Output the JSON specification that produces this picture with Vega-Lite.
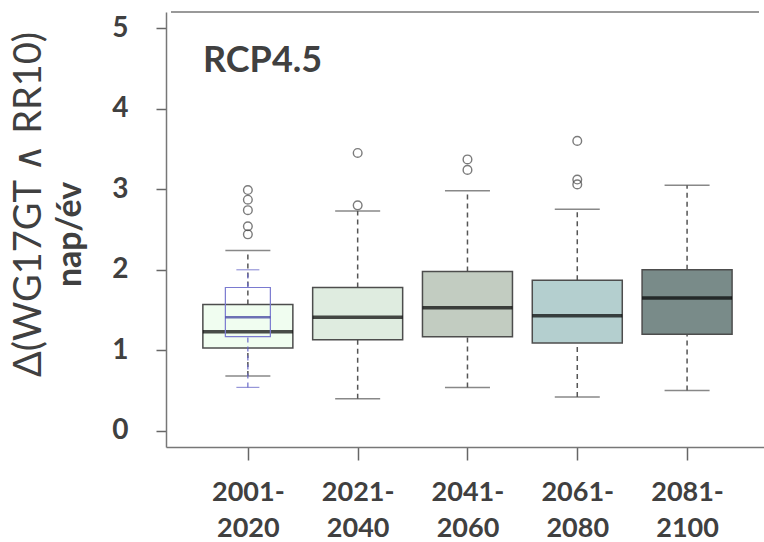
{
  "$schema": "https://vega.github.io/schema/vega-lite/v6.json",
  "width": 598,
  "height": 435,
  "autosize": {"type": "none"},
  "padding": {"left": 166, "top": 12, "right": 0, "bottom": 95},
  "background": "white",
  "config": {
    "view": {"stroke": null},
    "font": "Lato"
  },
  "title": {
    "text": "RCP4.5",
    "anchor": "start",
    "frame": "group",
    "orient": "top",
    "offset": 0,
    "dx": 37,
    "dy": 97,
    "baseline": "alphabetic",
    "font": "Lato",
    "fontSize": 36,
    "fontWeight": "bold",
    "color": "#404040"
  },
  "datasets": {
    "stats": [
      {"pos": 1, "period": "2001-2020", "lo": 0.68, "q1": 1.03, "med": 1.23, "q3": 1.57, "hi": 2.24},
      {"pos": 2, "period": "2021-2040", "lo": 0.4, "q1": 1.13, "med": 1.41, "q3": 1.78, "hi": 2.73},
      {"pos": 3, "period": "2041-2060", "lo": 0.54, "q1": 1.17, "med": 1.53, "q3": 1.98, "hi": 2.98},
      {"pos": 4, "period": "2061-2080", "lo": 0.42, "q1": 1.09, "med": 1.43, "q3": 1.87, "hi": 2.75},
      {"pos": 5, "period": "2081-2100", "lo": 0.5, "q1": 1.2, "med": 1.65, "q3": 2.0, "hi": 3.05}
    ],
    "blue": [
      {"pos": 1, "lo": 0.54, "q1": 1.17, "med": 1.41, "q3": 1.78, "hi": 2.0}
    ],
    "outliers": [
      {"pos": 1, "value": 2.99},
      {"pos": 1, "value": 2.87},
      {"pos": 1, "value": 2.74},
      {"pos": 1, "value": 2.54},
      {"pos": 1, "value": 2.44},
      {"pos": 2, "value": 3.45},
      {"pos": 2, "value": 2.8},
      {"pos": 3, "value": 3.37},
      {"pos": 3, "value": 3.24},
      {"pos": 4, "value": 3.6},
      {"pos": 4, "value": 3.12},
      {"pos": 4, "value": 3.06}
    ],
    "frame": [{"top": 5.2, "left": 0.3, "right": 5.655}]
  },
  "resolve": {"scale": {"y": "independent"}, "axis": {"y": "independent"}},
  "layer": [
    {
      "layer": [
        {
          "data": {"name": "stats"},
          "mark": {"type": "rule", "strokeDash": [5, 4], "color": "#555555", "strokeWidth": 1.5},
          "encoding": {
            "x": {
              "field": "pos", "type": "quantitative",
              "scale": {"domain": [0.3, 5.655], "nice": false, "zero": false},
              "axis": {
                "values": [1, 2, 3, 4, 5],
                "labelExpr": "[[''], ['2001-','2020'], ['2021-','2040'], ['2041-','2060'], ['2061-','2080'], ['2081-','2100']][datum.value]",
                "labelFont": "Lato", "labelFontSize": 27, "labelFontWeight": "bold", "labelColor": "#404040",
                "labelLineHeight": 36, "labelBaseline": "top", "labelPadding": 19,
                "labelFlush": false, "labelOverlap": false,
                "tickSize": 13, "tickColor": "#666666", "tickWidth": 1.5,
                "domainColor": "#777777", "domainWidth": 1.5,
                "grid": false, "title": null
              }
            },
            "y": {
              "field": "q3", "type": "quantitative",
              "scale": {"domain": [-0.2, 5.2], "nice": false, "zero": false},
              "axis": {
                "values": [0, 1, 2, 3, 4, 5], "format": "d",
                "labelFont": "Lato", "labelFontSize": 28, "labelFontWeight": "bold", "labelColor": "#404040",
                "labelPadding": 28, "tickSize": 10, "tickColor": "#666666", "tickWidth": 1.5,
                "domainColor": "#777777", "domainWidth": 1.5, "grid": false,
                "title": "nap/év", "titleFont": "Lato", "titleFontSize": 34, "titleFontWeight": "bold",
                "titleColor": "#404040", "titleX": -86, "titleY": 222, "titleAngle": 270,
                "titleAlign": "center", "titleBaseline": "alphabetic"
              }
            },
            "y2": {"field": "hi"}
          }
        },
        {
          "data": {"name": "stats"},
          "mark": {"type": "rule", "strokeDash": [5, 4], "color": "#555555", "strokeWidth": 1.5},
          "encoding": {
            "x": {"field": "pos", "type": "quantitative"},
            "y": {"field": "lo", "type": "quantitative"},
            "y2": {"field": "q1"}
          }
        },
        {
          "data": {"name": "stats"},
          "mark": {"type": "tick", "orient": "horizontal", "size": 45, "thickness": 1.5, "color": "#555555"},
          "encoding": {
            "x": {"field": "pos", "type": "quantitative"},
            "y": {"field": "hi", "type": "quantitative"}
          }
        },
        {
          "data": {"name": "stats"},
          "mark": {"type": "tick", "orient": "horizontal", "size": 45, "thickness": 1.5, "color": "#555555"},
          "encoding": {
            "x": {"field": "pos", "type": "quantitative"},
            "y": {"field": "lo", "type": "quantitative"}
          }
        },
        {
          "data": {"name": "stats"},
          "mark": {"type": "bar", "size": 90, "stroke": "#4d4d4d", "strokeWidth": 1.5},
          "encoding": {
            "x": {"field": "pos", "type": "quantitative"},
            "y": {"field": "q1", "type": "quantitative"},
            "y2": {"field": "q3"},
            "fill": {
              "field": "period", "type": "nominal",
              "scale": {"domain": ["2001-2020", "2021-2040", "2041-2060", "2061-2080", "2081-2100"],
                        "range": ["#F0FDF0", "#DFECE0", "#C2CCC1", "#B4CFCF", "#798B89"]},
              "legend": null
            }
          }
        },
        {
          "data": {"name": "stats"},
          "mark": {"type": "tick", "orient": "horizontal", "size": 90, "thickness": 3.5, "color": "#000000"},
          "encoding": {
            "x": {"field": "pos", "type": "quantitative"},
            "y": {"field": "med", "type": "quantitative"}
          }
        },
        {
          "data": {"name": "outliers"},
          "mark": {"type": "point", "shape": "circle", "filled": false, "size": 75, "stroke": "#444444", "strokeWidth": 1.4},
          "encoding": {
            "x": {"field": "pos", "type": "quantitative"},
            "y": {"field": "value", "type": "quantitative"}
          }
        },
        {
          "data": {"name": "blue"},
          "mark": {"type": "rule", "strokeDash": [5, 4], "color": "#6a6ac8", "strokeWidth": 1.2},
          "encoding": {
            "x": {"field": "pos", "type": "quantitative"},
            "y": {"field": "q3", "type": "quantitative"},
            "y2": {"field": "hi"}
          }
        },
        {
          "data": {"name": "blue"},
          "mark": {"type": "rule", "strokeDash": [5, 4], "color": "#6a6ac8", "strokeWidth": 1.2},
          "encoding": {
            "x": {"field": "pos", "type": "quantitative"},
            "y": {"field": "lo", "type": "quantitative"},
            "y2": {"field": "q1"}
          }
        },
        {
          "data": {"name": "blue"},
          "mark": {"type": "tick", "orient": "horizontal", "size": 23, "thickness": 1.2, "color": "#6a6ac8"},
          "encoding": {
            "x": {"field": "pos", "type": "quantitative"},
            "y": {"field": "hi", "type": "quantitative"}
          }
        },
        {
          "data": {"name": "blue"},
          "mark": {"type": "tick", "orient": "horizontal", "size": 23, "thickness": 1.2, "color": "#6a6ac8"},
          "encoding": {
            "x": {"field": "pos", "type": "quantitative"},
            "y": {"field": "lo", "type": "quantitative"}
          }
        },
        {
          "data": {"name": "blue"},
          "mark": {"type": "bar", "size": 45, "fill": null, "fillOpacity": 0, "stroke": "#7a7ad0", "strokeWidth": 1.2},
          "encoding": {
            "x": {"field": "pos", "type": "quantitative"},
            "y": {"field": "q1", "type": "quantitative"},
            "y2": {"field": "q3"}
          }
        },
        {
          "data": {"name": "blue"},
          "mark": {"type": "tick", "orient": "horizontal", "size": 45, "thickness": 2.5, "color": "#33339a"},
          "encoding": {
            "x": {"field": "pos", "type": "quantitative"},
            "y": {"field": "med", "type": "quantitative"}
          }
        }
      ]
    },
    {
      "data": {"name": "frame"},
      "mark": {"type": "rule", "color": "#777777", "strokeWidth": 1.5},
      "encoding": {
        "x": {"field": "left", "type": "quantitative"},
        "x2": {"field": "right"},
        "y": {
          "field": "top", "type": "quantitative",
          "scale": {"domain": [-0.2, 5.2], "nice": false, "zero": false},
          "axis": {
            "orient": "left", "labels": false, "ticks": false, "domain": false, "grid": false,
            "title": "Δ(WG17GT ∧ RR10)", "titleFont": "Lato", "titleFontSize": 38, "titleFontWeight": "normal",
            "titleColor": "#404040", "titleX": -126, "titleY": 192, "titleAngle": 270,
            "titleAlign": "center", "titleBaseline": "alphabetic"
          }
        }
      }
    }
  ]
}
